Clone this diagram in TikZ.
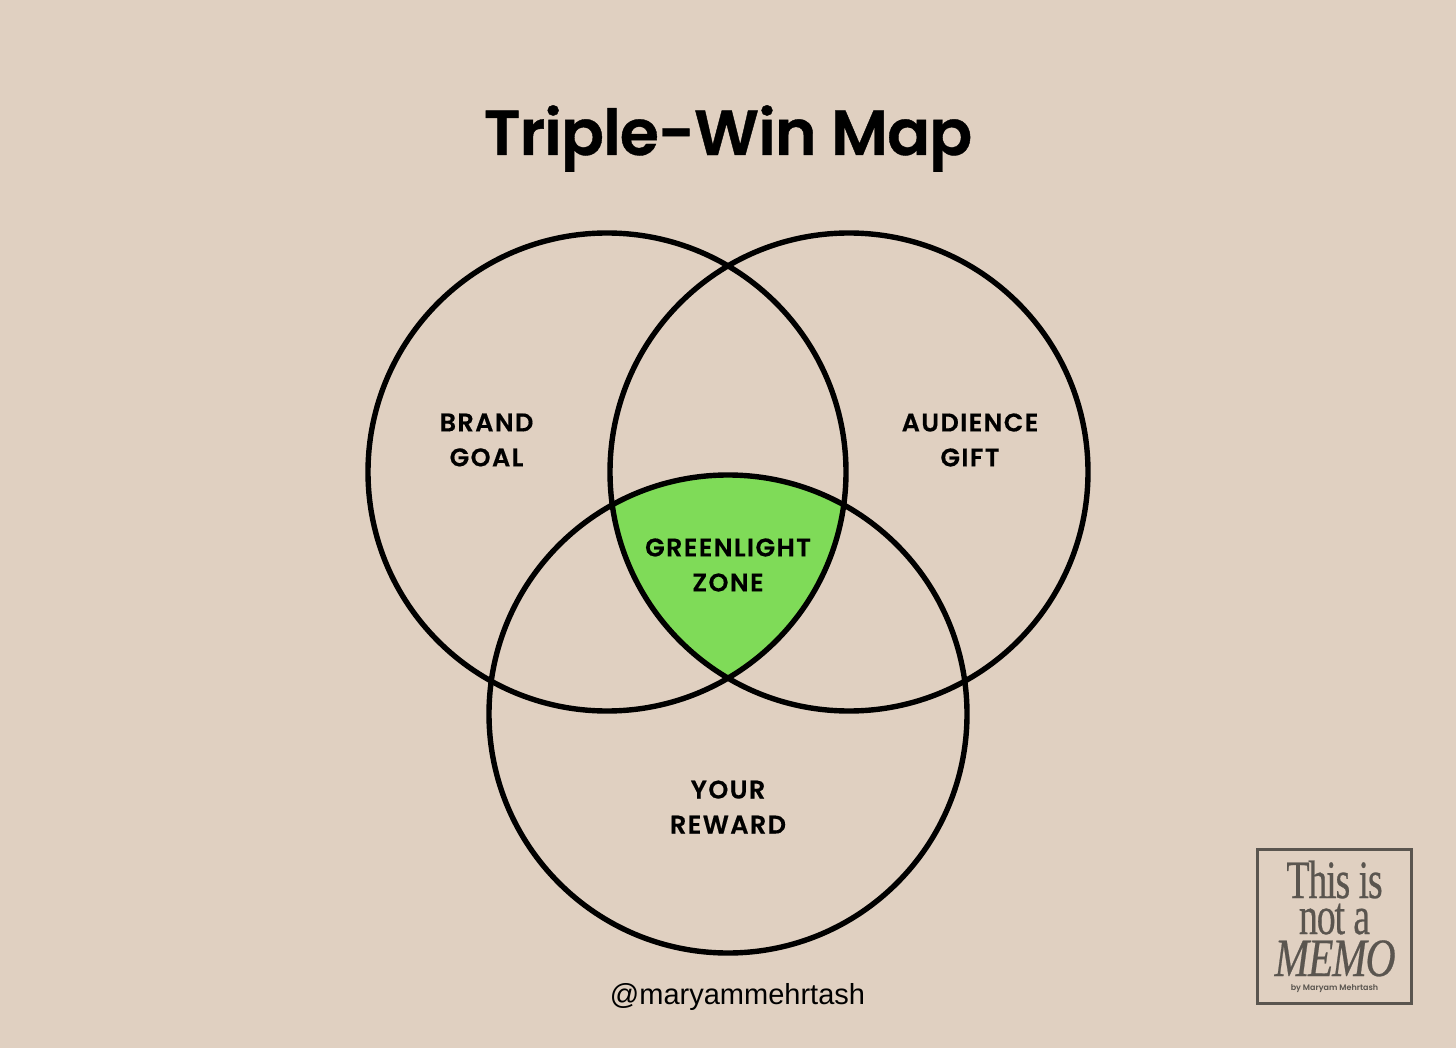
\documentclass[tikz,border=0pt]{standalone}
\usepackage{fontspec}
\setmainfont{Poppins}[BoldFont={Poppins SemiBold}]
\newfontfamily\titlefont{Poppins SemiBold}[LetterSpace=-1.5,FakeBold=0.6]
\newfontfamily\labfont{Poppins SemiBold}[LetterSpace=5.5,FakeBold=0.4]
\newfontfamily\handlefont{Liberation Sans}
\newfontfamily\logofont{Liberation Serif}[LetterSpace=-3,FakeBold=0.5]
\newfontfamily\logoital{Liberation Serif Italic}[LetterSpace=-3,FakeBold=0.5]
\definecolor{bgc}{HTML}{E0D0C1}
\definecolor{greenc}{HTML}{7FDB58}
\definecolor{logoc}{HTML}{5A554F}
\tikzset{
  ring/.style={draw=black,line width=5.4pt,circle,minimum size=478pt,inner sep=0pt,outer sep=0pt},
  lab/.style={align=center,font=\labfont\fontsize{25.5}{35}\selectfont,text=black,inner sep=0pt},
  logotext/.style={text=logoc,inner sep=0pt,transform shape,anchor=base}
}
\begin{document}
\begin{tikzpicture}[x=1pt,y=-1pt]
\useasboundingbox (0,0) rectangle (1456,1048);
\fill[bgc] (0,0) rectangle (1456,1048);
\begin{scope}
\clip (607,472) circle (239pt);
\clip (849,472) circle (239pt);
\fill[greenc] (728,714) circle (239pt);
\end{scope}
\node[ring] (brand) at (607,472) {};
\node[ring] (audience) at (849,472) {};
\node[ring] (reward) at (728,714) {};
\node[font=\titlefont\fontsize{63.5}{70}\selectfont,inner sep=0pt,anchor=base] (title) at (728,155) {Triple-Win Map};
\node[lab] (lbrand) at (486.5,440) {BRAND\\GOAL};
\node[lab] (laud) at (970,440) {AUDIENCE\\GIFT};
\node[lab] (lgreen) at (728,565) {GREENLIGHT\\ZONE};
\node[lab] (lyour) at (728,807) {YOUR\\REWARD};
\node[font=\handlefont\fontsize{29}{32}\selectfont,inner sep=0pt,anchor=base] (handle) at (737.5,1004) {@maryammehrtash};
\node[draw=logoc,line width=2.2pt,minimum size=154pt,inner sep=0pt] (logo) at (1334.5,926.5) {};
\begin{scope}[xscale=0.70]
\node[logotext,font=\logofont\fontsize{54}{54}\selectfont] (l1) at (1334.5/0.70,898) {This is};
\node[logotext,font=\logofont\fontsize{54}{54}\selectfont] (l2) at (1334.5/0.70,934) {not a};
\end{scope}
\begin{scope}[xscale=0.77]
\node[logotext,font=\logoital\fontsize{54}{54}\selectfont] (l3) at (1335/0.77,976) {MEMO};
\end{scope}
\node[text=logoc,font=\fontsize{8}{10}\selectfont\bfseries,inner sep=0pt,anchor=base] (l4) at (1334.5,990) {by Maryam Mehrtash};
\end{tikzpicture}
\end{document}
